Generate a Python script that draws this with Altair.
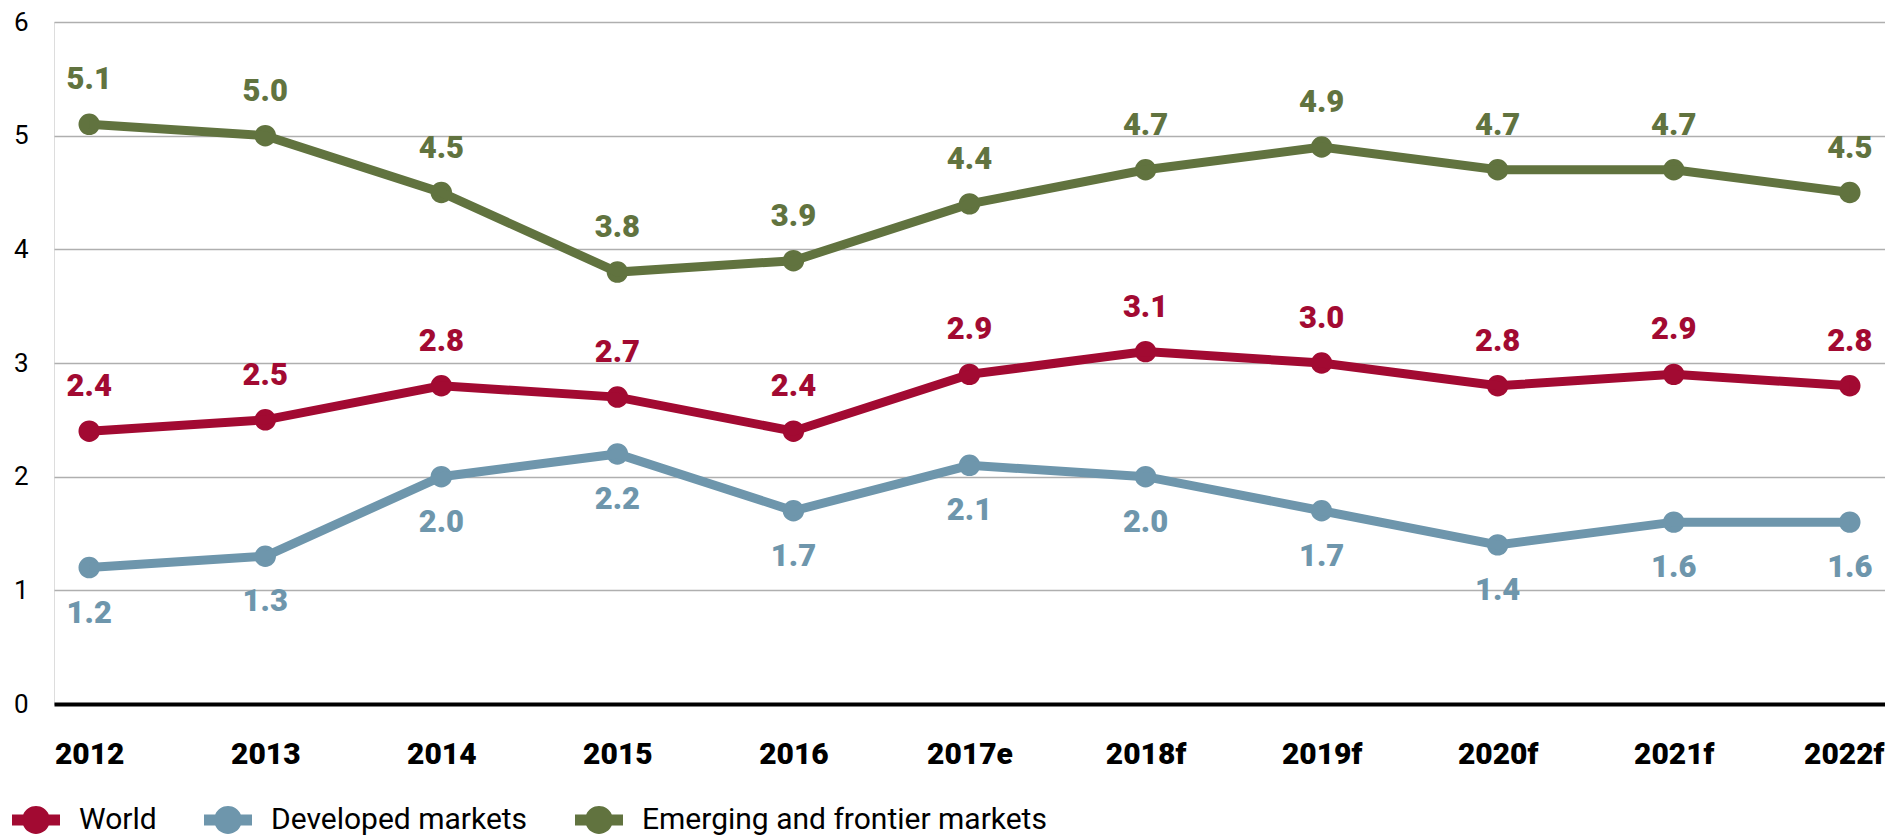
import altair as alt
import pandas as pd

years = ["2012", "2013", "2014", "2015", "2016", "2017e", "2018f", "2019f", "2020f", "2021f", "2022f"]
world = [2.4, 2.5, 2.8, 2.7, 2.4, 2.9, 3.1, 3.0, 2.8, 2.9, 2.8]
developed = [1.2, 1.3, 2.0, 2.2, 1.7, 2.1, 2.0, 1.7, 1.4, 1.6, 1.6]
emerging = [5.1, 5.0, 4.5, 3.8, 3.9, 4.4, 4.7, 4.9, 4.7, 4.7, 4.5]
series = ["World", "Developed markets", "Emerging and frontier markets"]
colors = ["#A20A32", "#6E96AC", "#61733F"]
y_ticks = [0, 1, 2, 3, 4, 5, 6]

rows = []
for name, vals in zip(series, [world, developed, emerging]):
    for yr, v in zip(years, vals):
        rows.append({"year": yr, "value": v, "series": name, "label": f"{v:.1f}"})
df = pd.DataFrame(rows)

FONT = "Roboto"
# line-with-dot legend symbol (unit square path)
SYMBOL = ("M-1,-0.23L-0.532,-0.23A0.58,0.58,0,0,1,0.532,-0.23L1,-0.23L1,0.23"
          "L0.532,0.23A0.58,0.58,0,0,1,-0.532,0.23L-1,0.23Z")

x = alt.X("year:N", sort=years, scale=alt.Scale(type="point", padding=0.2),
          axis=alt.Axis(title=None, labelAngle=0, labelFont=FONT, labelFontSize=30,
                        labelFontWeight=900, labelColor="#000000", ticks=False, tickSize=0,
                        labelPadding=35, domain=True, domainColor="#000000", domainWidth=4,
                        grid=False,
                        labelOffset={"condition": {"test": "datum.value === '2022f'", "value": -6},
                                     "value": 0}))
y = alt.Y("value:Q", scale=alt.Scale(domain=[0, 6], nice=False),
          axis=alt.Axis(title=None, values=y_ticks, labelFont=FONT, labelFontSize=26,
                        labelColor="#000000", ticks=False, tickSize=0, labelPadding=26,
                        domain=False, grid=True, gridColor="#AFAFAF", gridWidth=1.5))
color_scale = alt.Scale(domain=series, range=colors)

legend = alt.Legend(title=None, orient="none", legendX=-42, legendY=774,
                    direction="horizontal", symbolType=SYMBOL,
                    symbolSize=2304, symbolStrokeWidth=0, symbolOpacity=1,
                    labelFont=FONT, labelFontSize=30,
                    labelColor="#000000", labelOffset=19, columnPadding=47, padding=0,
                    labelLimit=1000, symbolOffset=0)
color = alt.Color("series:N", scale=color_scale, legend=legend)

base = alt.Chart(df)

lines = base.mark_line(strokeWidth=9).encode(x=x, y=y, color=color)

points = base.mark_circle(size=460, opacity=1).encode(x=x, y=y, color=color)

labels_above = base.transform_filter(
    alt.datum.series != "Developed markets"
).mark_text(font=FONT, fontSize=31, fontWeight=900, baseline="alphabetic", dy=-35).encode(
    x=x, y=y, text="label:N", color=color,
)

labels_below = base.transform_filter(
    alt.datum.series == "Developed markets"
).mark_text(font=FONT, fontSize=31, fontWeight=900, baseline="alphabetic", dy=55).encode(
    x=x, y=y, text="label:N", color=color,
)

chart = alt.layer(points, lines, labels_above, labels_below).properties(
    width=1831, height=682,
    padding={"left": 46, "top": 14, "right": 0, "bottom": 135},
    autosize=alt.AutoSizeParams(type="none"),
).configure_view(stroke=None).configure(font=FONT)

chart.save("out.html", embed_options={"renderer": "svg", "actions": False})
